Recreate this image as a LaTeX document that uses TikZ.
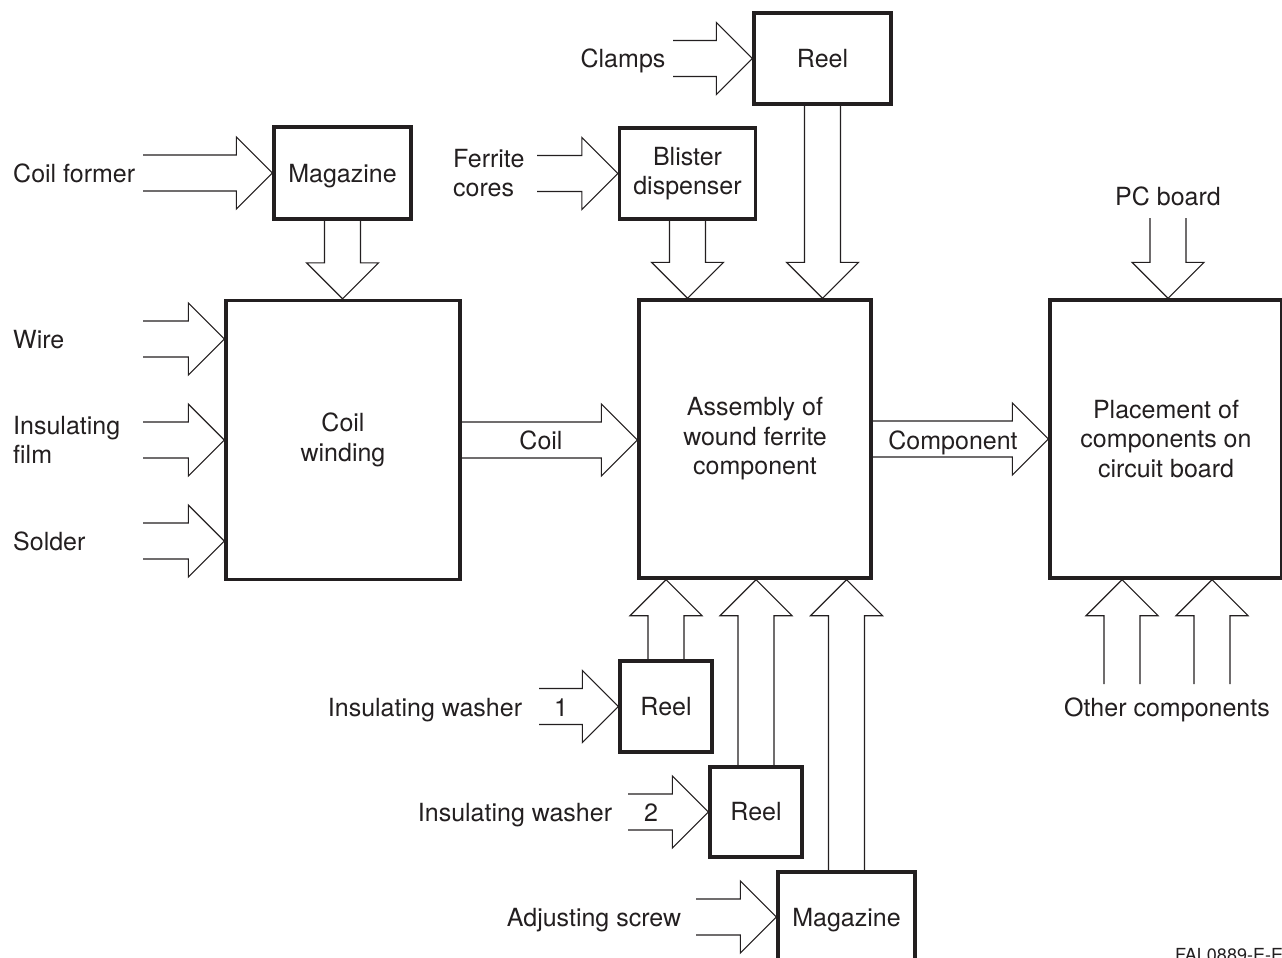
\documentclass[tikz,border=0pt]{standalone}
\usepackage{fontspec}
\setmainfont{TeX Gyre Heros}
\usetikzlibrary{calc}
\definecolor{ink}{HTML}{231F20}
\tikzset{
  box/.style={draw=ink, line width=3.3pt, inner sep=0pt, align=center, text=ink, font=\fontsize{25}{29.5}\selectfont},
  flatbox/.style={box, text depth=0pt},
  lbl/.style={text=ink, inner sep=0pt, font=\fontsize{25}{29.5}\selectfont},
  arr/.style={draw=ink, line width=1.2pt, line join=miter},
}
\newcommand\fatarrow[2]{%
  \coordinate (fa-b) at ($(#2)!36pt!(#1)$);
  \draw[arr] ($(#1)!18pt!90:(#2)$) -- ($(fa-b)!18pt!-90:(#1)$) -- ($(fa-b)!36pt!-90:(#1)$) -- (#2) -- ($(fa-b)!36pt!90:(#1)$) -- ($(fa-b)!18pt!90:(#1)$) -- ($(#1)!18pt!-90:(#2)$);
}
\begin{document}
\begin{tikzpicture}[x=1pt,y=-1pt]
\useasboundingbox (0,0) rectangle (1282,958);
\clip (0,0) rectangle (1282,958);
% boxes
\node[box, minimum width=137pt, minimum height=91pt] (reelT) at (822.5,58.5) {Reel};
\node[box, minimum width=136pt, minimum height=91pt] (blister) at (687.5,173.5) {Blister\\dispenser};
\node[flatbox, minimum width=137pt, minimum height=92pt] (magT) at (342.5,173) {Magazine};
\node[box, minimum width=234pt, minimum height=279pt] (coil) at (343,440) {Coil\\winding};
\node[box, minimum width=232pt, minimum height=278pt] (asm) at (755,439) {Assembly of\\wound ferrite\\component};
\node[box, minimum width=232pt, minimum height=278pt] (place) at (1166,439) {Placement of\\components on\\circuit board};
\node[box, minimum width=92pt, minimum height=91pt] (reel1) at (666,706.5) {Reel};
\node[box, minimum width=92pt, minimum height=90pt] (reel2) at (756,812) {Reel};
\node[flatbox, minimum width=137pt, minimum height=90pt] (magB) at (846.5,917) {Magazine};
% labels
\node[lbl, anchor=base] (clamps) at (623,67) {Clamps};
\node[lbl, anchor=base west] (coilformer) at (13,182) {Coil former};
\node[lbl, anchor=west, align=left] (ferrite) at (453,173) {Ferrite\\cores};
\node[lbl, anchor=base] (pcb) at (1168,205) {PC board};
\node[lbl, anchor=base west] (wire) at (13,348) {Wire};
\node[lbl, anchor=west, align=left] (film) at (13,440) {Insulating\\film};
\node[lbl, anchor=base west] (solder) at (13,550) {Solder};
\node[lbl, anchor=base] (coillbl) at (541,449) {Coil};
\node[lbl, anchor=base] (complbl) at (953,449) {Component};
\node[lbl, anchor=base] (other) at (1167,716) {Other components};
\node[lbl, anchor=base] (wash1) at (425,716) {Insulating washer};
\node[lbl, anchor=base] (num1) at (561,716) {1};
\node[lbl, anchor=base] (wash2) at (515,821) {Insulating washer};
\node[lbl, anchor=base] (num2) at (651,821) {2};
\node[lbl, anchor=base] (adj) at (594,926) {Adjusting screw};
\node[lbl, anchor=base west, font=\fontsize{18}{20}\selectfont] (code) at (1175,961) {FAL0889-E-E};
% tails and tips
\coordinate (clampsT) at (673,58.5);
\coordinate (cfT) at (143,173);
\coordinate (ferT) at (537,173.5);
\coordinate (pcT) at (1168,218);
\coordinate (wireT) at (143,339);
\coordinate (filmT) at (143,440);
\coordinate (solT) at (143,541);
\coordinate (oc1T) at (1122,684);
\coordinate (oc2T) at (1212,684);
\coordinate (w1T) at (539,706.5);
\coordinate (w2T) at (628,812);
\coordinate (adjT) at (696,917);
\coordinate (tMagCoil) at (magT.south |- coil.north);
\coordinate (tBlAsm) at (blister.south |- asm.north);
\coordinate (tReelAsm) at (reelT.south |- asm.north);
\coordinate (tPc) at (pcT |- place.north);
\coordinate (tWire) at (coil.west |- wireT);
\coordinate (tSol) at (coil.west |- solT);
\coordinate (tCoil) at (asm.west |- coil.east);
\coordinate (tComp) at (place.west |- asm.east);
\coordinate (tOc1) at (oc1T |- place.south);
\coordinate (tOc2) at (oc2T |- place.south);
\coordinate (tR1) at (reel1.north |- asm.south);
\coordinate (tR2) at (reel2.north |- asm.south);
\coordinate (tMB) at (magB.north |- asm.south);
% arrows
\fatarrow{clampsT}{reelT.west}
\fatarrow{cfT}{magT.west}
\fatarrow{ferT}{blister.west}
\fatarrow{magT.south}{tMagCoil}
\fatarrow{blister.south}{tBlAsm}
\fatarrow{reelT.south}{tReelAsm}
\fatarrow{pcT}{tPc}
\fatarrow{wireT}{tWire}
\fatarrow{filmT}{coil.west}
\fatarrow{solT}{tSol}
\fatarrow{coil.east}{tCoil}
\fatarrow{asm.east}{tComp}
\fatarrow{oc1T}{tOc1}
\fatarrow{oc2T}{tOc2}
\fatarrow{reel1.north}{tR1}
\fatarrow{reel2.north}{tR2}
\fatarrow{magB.north}{tMB}
\fatarrow{w1T}{reel1.west}
\fatarrow{w2T}{reel2.west}
\fatarrow{adjT}{magB.west}
\end{tikzpicture}
\end{document}
